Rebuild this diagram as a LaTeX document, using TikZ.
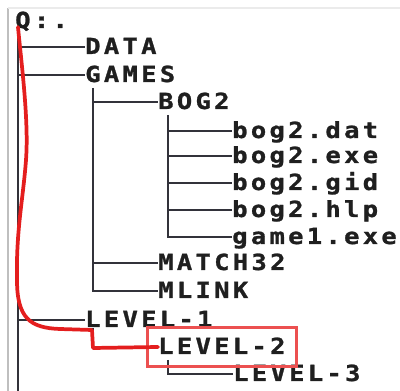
\documentclass[tikz,border=0pt]{standalone}
\usepackage{fontspec}
\newfontfamily\dirfont[FakeStretch=1.15,LetterSpace=15,FakeBold=1.2]{DejaVu Sans Mono Bold}
\usetikzlibrary{fit}
\definecolor{markred}{RGB}{228,30,30}
\definecolor{boxred}{RGB}{236,80,80}
\definecolor{treeline}{RGB}{50,50,58}
\tikzset{
  entry/.style={anchor=west, inner sep=0pt, text height=10.5pt, text depth=0pt, font=\dirfont\fontsize{16.6}{18}\selectfont, text=black!88},
  branch/.style={draw=treeline, line width=1.5pt},
  trail/.style={draw=markred, line width=2.8pt, line join=round, line cap=round},
  hilite/.style={draw=boxred, line width=2.3pt, inner xsep=8pt, inner ysep=9.5pt}
}
\begin{document}
\begin{tikzpicture}[x=0.75pt, y=-0.75pt]
\useasboundingbox (0,0) rectangle (400,391);
\draw[black!25, line width=0.8pt] (8,391) -- (8,8);
\draw[black!8, line width=1.5pt] (8,8) -- (400,8);

\node[entry] (q) at (15,21) {Q:.};
\node[entry] (data) at (85,47) {DATA};
\node[entry] (games) at (85,75) {GAMES};
\node[entry] (bog) at (158,102) {BOG2};
\node[entry] (dat) at (232,131) {bog2.dat};
\node[entry] (exe) at (232,156) {bog2.exe};
\node[entry] (gid) at (232,183) {bog2.gid};
\node[entry] (hlp) at (232,210) {bog2.hlp};
\node[entry] (gameone) at (232,237) {game1.exe};
\node[entry] (match) at (158,263) {MATCH32};
\node[entry] (mlink) at (158,291) {MLINK};
\node[entry] (lvlone) at (85,320) {LEVEL-1};
\node[entry] (lvltwo) at (158,347) {LEVEL-2};
\node[entry] (lvlthree) at (233,374) {LEVEL-3};

\coordinate (root) at (18,32);
\coordinate (rootend) at (18,391);
\coordinate (gamesbar) at (93,88);
\coordinate (bogbar) at (168,115);
\coordinate (lvlonebar) at (93,328);
\coordinate (lvltwobar) at (168,360);

\draw[branch] (root) -- (rootend);
\draw[branch] (root |- data.west) -- (data.west);
\draw[branch] (root |- games.west) -- (games.west);
\draw[branch] (root |- lvlone.west) -- (lvlone.west);
\draw[branch] (gamesbar) |- (mlink.west);
\draw[branch] (gamesbar |- bog.west) -- (bog.west);
\draw[branch] (gamesbar |- match.west) -- (match.west);
\draw[branch] (bogbar) |- (gameone.west);
\draw[branch] (bogbar |- dat.west) -- (dat.west);
\draw[branch] (bogbar |- exe.west) -- (exe.west);
\draw[branch] (bogbar |- gid.west) -- (gid.west);
\draw[branch] (bogbar |- hlp.west) -- (hlp.west);
\draw[branch] (lvlonebar) |- (lvltwo.west);
\draw[branch] (lvltwobar) |- (lvlthree.west);

\node[hilite, fit=(lvltwo)] (mark) {};
\draw[trail] (18,27) .. controls (21,60) and (29,120) .. (26,160) .. controls (23,200) and (16,230) .. (17,280) .. controls (17,318) and (30,328) .. (60,329) -- (92,330) -- (93,348) -- (lvltwo.west);
\end{tikzpicture}
\end{document}
